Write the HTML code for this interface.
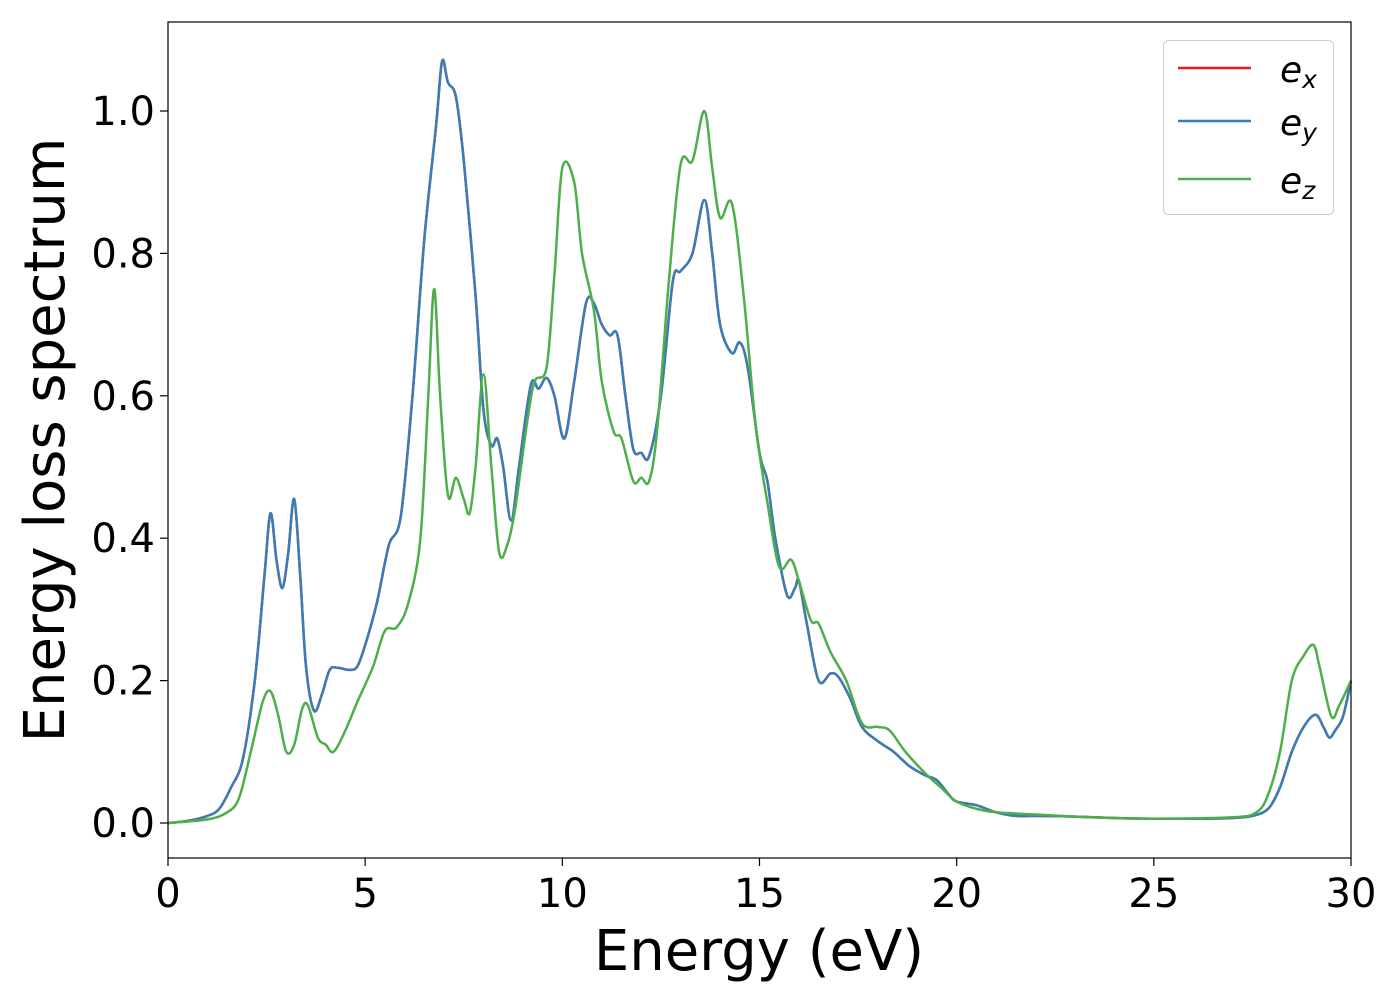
<!DOCTYPE html>
<html><head><meta charset="utf-8">
<style>
html,body{margin:0;padding:0;background:#fff;}
svg text{font-family:"DejaVu Sans","Liberation Sans",sans-serif;}
</style></head>
<body>
<svg id="chart" width="1400" height="1000" xmlns="http://www.w3.org/2000/svg">
<rect x="0" y="0" width="1400" height="1000" fill="#fff"/>
<g id="plot"></g>
<rect x="168" y="22" width="1183" height="836" fill="none" stroke="#000" stroke-width="1.2"/>
<g id="xticks"></g>
<g id="yticks"></g>
<text x="759" y="970" font-size="56" text-anchor="middle">Energy (eV)</text>
<text transform="translate(64,440) rotate(-90)" font-size="56" text-anchor="middle">Energy loss spectrum</text>
<g>
<rect x="1163.5" y="40.5" width="170" height="174" rx="5" fill="#fff" fill-opacity="0.8" stroke="#ccc" stroke-width="1"/>
<line x1="1178" y1="68" x2="1251" y2="68" stroke="#e41a1c" stroke-width="2.5"/>
<text x="1280" y="82" font-size="36" font-style="italic">e<tspan font-size="25" dy="6">x</tspan></text>
<line x1="1178" y1="121" x2="1251" y2="121" stroke="#377eb8" stroke-width="2.5"/>
<text x="1280" y="135" font-size="36" font-style="italic">e<tspan font-size="25" dy="6">y</tspan></text>
<line x1="1178" y1="179" x2="1251" y2="179" stroke="#4daf4a" stroke-width="2.5"/>
<text x="1280" y="193" font-size="36" font-style="italic">e<tspan font-size="25" dy="6">z</tspan></text>
</g>
</svg>
<script>
const xyEnergy = [0,0.5,1.0,1.3,1.6,1.9,2.2,2.45,2.6,2.75,2.9,3.05,3.2,3.35,3.5,3.7,3.9,4.1,4.3,4.6,4.8,5.0,5.3,5.6,5.9,6.2,6.5,6.8,6.95,7.1,7.3,7.5,7.8,8.0,8.2,8.35,8.5,8.7,8.9,9.2,9.4,9.6,9.8,10.05,10.3,10.6,10.8,11.0,11.2,11.4,11.6,11.8,12.0,12.2,12.5,12.8,13.0,13.3,13.6,13.8,14.0,14.3,14.5,14.7,15.0,15.2,15.4,15.7,15.9,16.0,16.2,16.5,16.8,17.0,17.3,17.6,18.0,18.4,18.8,19.2,19.5,19.8,20.0,20.5,21,21.5,22,23,24,25,26,27,27.5,27.9,28.2,28.5,28.8,29.1,29.3,29.45,29.6,29.8,30];
const eyValues = [0,0.003,0.01,0.02,0.05,0.09,0.2,0.35,0.435,0.37,0.33,0.38,0.455,0.35,0.22,0.158,0.18,0.215,0.218,0.215,0.22,0.25,0.31,0.39,0.43,0.6,0.82,0.98,1.07,1.04,1.02,0.93,0.74,0.58,0.53,0.54,0.5,0.425,0.5,0.615,0.61,0.625,0.6,0.54,0.62,0.73,0.73,0.7,0.685,0.685,0.6,0.525,0.52,0.515,0.6,0.76,0.775,0.8,0.875,0.8,0.7,0.66,0.675,0.64,0.52,0.48,0.4,0.32,0.33,0.34,0.28,0.2,0.21,0.205,0.175,0.135,0.115,0.1,0.08,0.067,0.06,0.04,0.03,0.025,0.015,0.01,0.01,0.009,0.007,0.006,0.006,0.007,0.01,0.02,0.05,0.1,0.135,0.152,0.135,0.12,0.13,0.15,0.2];
const exValues = eyValues.slice();
const zEnergy = [0,1,1.5,1.8,2.1,2.4,2.6,2.8,3.0,3.2,3.4,3.55,3.8,4.0,4.2,4.5,4.8,5.2,5.5,5.8,6.1,6.4,6.6,6.75,6.9,7.1,7.3,7.5,7.65,7.8,8.0,8.2,8.4,8.6,8.8,9.1,9.3,9.6,9.8,10.0,10.3,10.5,10.8,11.0,11.3,11.5,11.8,12.0,12.2,12.4,12.7,13.0,13.3,13.6,13.8,14.0,14.3,14.6,14.9,15.2,15.5,15.8,16.0,16.3,16.5,16.8,17.2,17.6,18.0,18.3,18.7,19.2,19.6,20,20.5,21,22,23,24,25,27,27.6,27.9,28.2,28.5,28.8,29.05,29.2,29.5,29.7,30];
const ezValues = [0,0.005,0.015,0.035,0.1,0.17,0.185,0.15,0.1,0.11,0.16,0.165,0.12,0.11,0.1,0.13,0.17,0.22,0.27,0.275,0.31,0.4,0.6,0.75,0.6,0.46,0.485,0.455,0.435,0.5,0.63,0.5,0.38,0.39,0.44,0.56,0.62,0.64,0.77,0.92,0.9,0.8,0.72,0.62,0.55,0.54,0.48,0.485,0.48,0.55,0.76,0.925,0.93,1.0,0.92,0.85,0.87,0.74,0.56,0.45,0.36,0.37,0.34,0.285,0.28,0.24,0.2,0.14,0.135,0.13,0.1,0.07,0.05,0.03,0.02,0.015,0.012,0.009,0.007,0.006,0.008,0.015,0.04,0.1,0.2,0.235,0.25,0.22,0.15,0.165,0.2];
const xTickValues = [0,5,10,15,20,25,30];
const yTickValues = [0.0,0.2,0.4,0.6,0.8,1.0];
const yTickLabels = ["0.0","0.2","0.4","0.6","0.8","1.0"];

const NS = "http://www.w3.org/2000/svg";
function xScale(v){ return 168 + v*(1351-168)/30; }
function yScale(v){ return 823 - v*712; }
function pathFor(xs, ys){
  const p = xs.map((x,i)=>[xScale(x), yScale(ys[i])]);
  let d = "M"+p[0][0].toFixed(1)+","+p[0][1].toFixed(1);
  for(let i=0;i<p.length-1;i++){
    const p0=p[Math.max(0,i-1)], p1=p[i], p2=p[i+1], p3=p[Math.min(p.length-1,i+2)];
    const c1=[p1[0]+(p2[0]-p0[0])/6, p1[1]+(p2[1]-p0[1])/6];
    const c2=[p2[0]-(p3[0]-p1[0])/6, p2[1]-(p3[1]-p1[1])/6];
    d+=" C"+c1[0].toFixed(1)+","+c1[1].toFixed(1)+" "+c2[0].toFixed(1)+","+c2[1].toFixed(1)+" "+p2[0].toFixed(1)+","+p2[1].toFixed(1);
  }
  return d;
}
const plot = document.getElementById("plot");
function addLine(name, xs, ys, color){
  const el = document.createElementNS(NS,"path");
  el.setAttribute("d", pathFor(xs, ys));
  el.setAttribute("fill","none");
  el.setAttribute("stroke",color);
  el.setAttribute("stroke-width","2.5");
  el.setAttribute("stroke-linejoin","round");
  
  
  plot.appendChild(el);
}
addLine("series-ex", xyEnergy, exValues, "#e41a1c");
addLine("series-ey", xyEnergy, eyValues, "#377eb8");
addLine("series-ez", zEnergy, ezValues, "#4daf4a");

const xt = document.getElementById("xticks");
xTickValues.forEach(v=>{
  const x = xScale(v);
  const l = document.createElementNS(NS,"line");
  l.setAttribute("x1",x); l.setAttribute("x2",x); l.setAttribute("y1",858); l.setAttribute("y2",866);
  l.setAttribute("stroke","#000"); l.setAttribute("stroke-width","1.2");
  
  
  xt.appendChild(l);
  const t = document.createElementNS(NS,"text");
  t.setAttribute("x",x); t.setAttribute("y",907); t.setAttribute("font-size","40"); t.setAttribute("text-anchor","middle");
  t.textContent = String(v);
  
  
  xt.appendChild(t);
});
const yt = document.getElementById("yticks");
yTickValues.forEach((v,i)=>{
  const y = yScale(v);
  const l = document.createElementNS(NS,"line");
  l.setAttribute("x1",160); l.setAttribute("x2",168); l.setAttribute("y1",y); l.setAttribute("y2",y);
  l.setAttribute("stroke","#000"); l.setAttribute("stroke-width","1.2");
  
  
  yt.appendChild(l);
  const t = document.createElementNS(NS,"text");
  t.setAttribute("x",155); t.setAttribute("y",y+14); t.setAttribute("font-size","40"); t.setAttribute("text-anchor","end");
  t.textContent = yTickLabels[i];
  
  
  yt.appendChild(t);
});
</script>
</body></html>
